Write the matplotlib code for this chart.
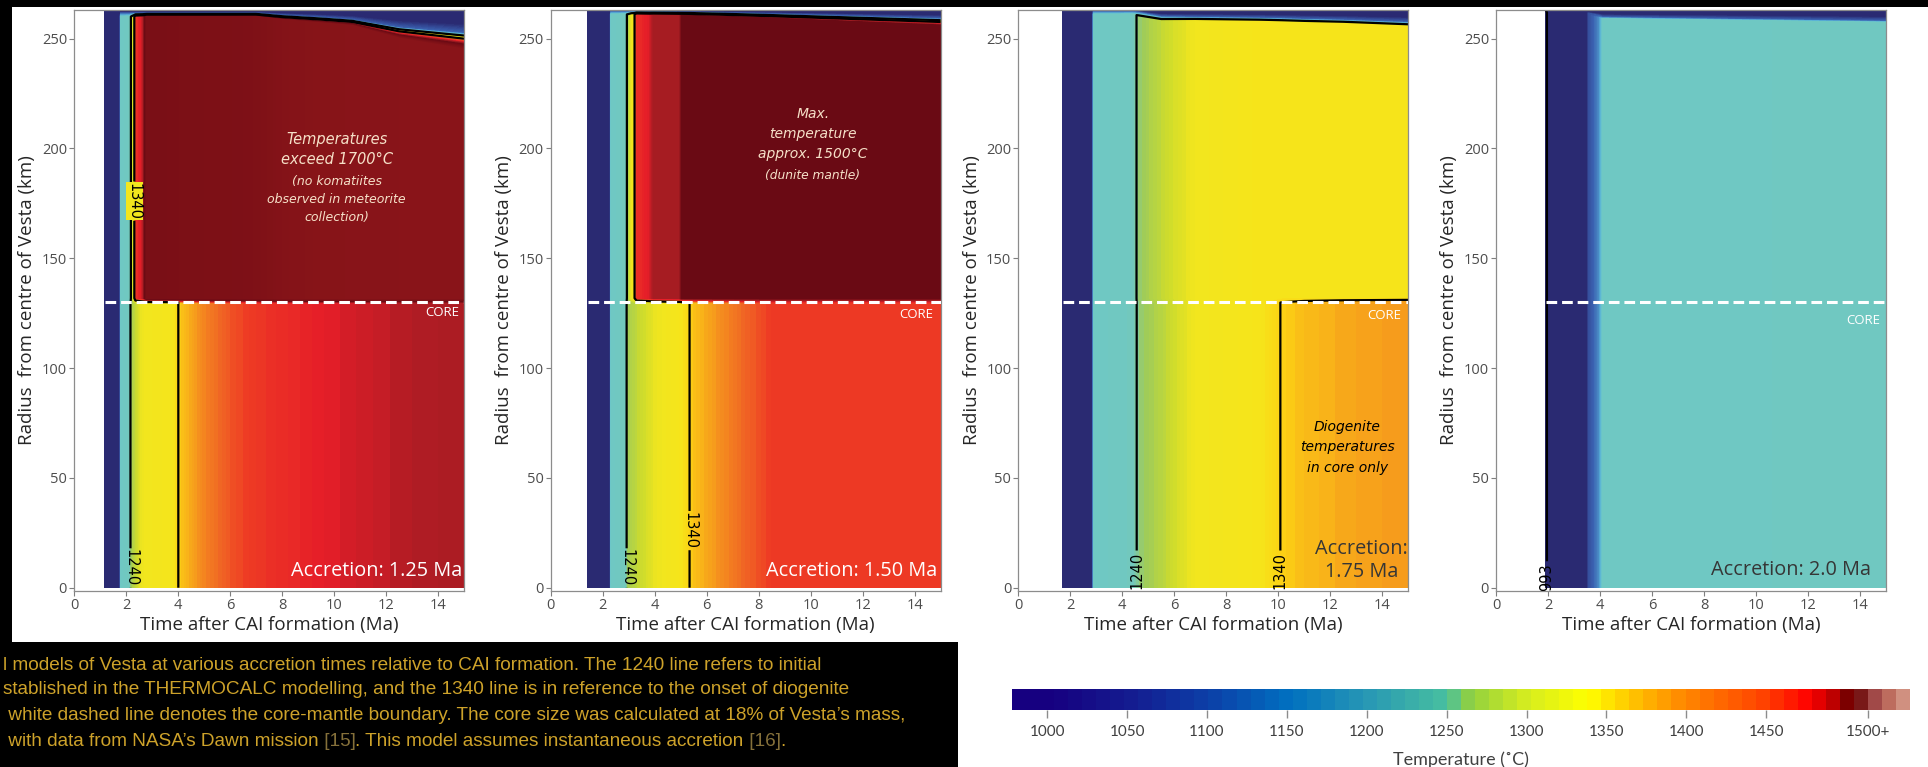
import numpy as np
import matplotlib
matplotlib.use("Agg")
import matplotlib.pyplot as plt
from matplotlib.colors import LinearSegmentedColormap, Normalize
from matplotlib.patches import Rectangle
from matplotlib.cm import ScalarMappable

plt.rcParams['font.family'] = ['Open Sans', 'DejaVu Sans']

# Thermal model values.
# time (Ma after CAI), core / mantle temperature (C), radius (km) where the
# hot interior stops and where the cold rim starts
p1_time = [1.18, 1.72, 1.80, 2.15, 2.18, 2.25, 2.30, 2.36, 2.60, 2.65, 2.80,
           3.80, 4.05, 4.50, 5.0, 6.0, 7.0, 8.0, 9.5, 10.7, 12.5, 15.0]
p1_core = [1000, 1000, 1225, 1235, 1242, 1255, 1262, 1268, 1295, 1298, 1302,
           1312, 1345, 1362, 1382, 1408, 1424, 1434, 1447, 1455, 1466, 1476]
p1_mantle = [1000, 1000, 1225, 1233, 1236, 1270, 1300, 1420, 1455, 1462, 1600,
             1605, 1608, 1610, 1612, 1615, 1625, 1660, 1680, 1685, 1688, 1690]
p1_hot_top = [260, 260, 260, 260, 260, 260, 260, 260, 260, 260, 260,
              260, 260, 260, 260, 260, 260, 258.5, 257, 255.8, 250, 245]
p1_cold_base = [261.5, 261.5, 261.5, 261.5, 261.5, 261.5, 261.5, 261.5, 261.5, 261.5, 261.5,
                261.5, 261.5, 261.5, 261.5, 261.5, 261.5, 260.5, 259.5, 258.5, 255, 252.5]

p2_time = [1.42, 2.24, 2.32, 2.90, 2.97, 3.10, 3.20, 3.30, 3.80, 3.95, 4.95,
           5.05, 5.37, 5.60, 6.50, 7.50, 8.50, 15.0]
p2_core = [1000, 1000, 1225, 1236, 1250, 1258, 1262, 1266, 1285, 1292, 1315,
           1320, 1342, 1352, 1375, 1400, 1420, 1422]
p2_mantle = [1000, 1000, 1225, 1234, 1248, 1295, 1310, 1430, 1452, 1476, 1480,
             1530, 1530, 1530, 1530, 1530, 1530, 1530]
p2_hot_top = [261, 261, 261, 261, 261, 261, 261, 261, 260.8, 260.8, 260.6,
              260.5, 260.4, 260.3, 260, 259.6, 259.2, 256]
p2_cold_base = [262.3, 262.3, 262.3, 262.3, 262.3, 262.3, 262.3, 262.3, 262.2, 262.2, 262.1,
                262, 262, 261.9, 261.7, 261.4, 261.1, 259]

p3_time = [1.70, 2.78, 2.90, 4.40, 4.62, 5.50, 6.80, 9.30, 10.15, 11.0, 12.5, 15.0]
p3_core = [1000, 1000, 1225, 1233, 1243, 1262, 1300, 1318, 1342, 1352, 1362, 1372]
p3_mantle = [1000, 1000, 1225, 1232, 1244, 1268, 1300, 1318, 1320, 1320, 1320, 1320]
p3_hot_top = [261, 261, 261, 261, 260.5, 258.5, 258.3, 257.8, 257.5, 257.2, 256.8, 255.5]
p3_cold_base = [262.3, 262.3, 262.3, 262.3, 262, 260, 259.8, 259.4, 259.2, 258.9, 258.5, 257.5]

p4_time = [1.92, 1.98, 3.45, 3.55, 3.95, 4.10, 15.0]
p4_core = [980, 1000, 1000, 1140, 1180, 1225, 1230]
p4_mantle = [980, 1000, 1000, 1140, 1180, 1225, 1230]
p4_hot_top = [261, 261, 261, 260.5, 259.5, 259, 257.3]
p4_cold_base = [262, 262, 262, 261.5, 260.3, 259.7, 258]

core_top = 129.8       # km
mantle_bottom = 131.8  # km
core_boundary = 130    # km, white dashed line
surface = 263          # km
rim_warm = 1160        # C, at the base of the cold rim
rim_temp = 1000        # C, at the surface

contour_levels = [[1240, 1340], [1240, 1340], [1240, 1340], [993]]
label_spots = [[(2.18, 9), (2.33, 176)], [(2.93, 9), (5.34, 26)],
               [(4.57, 8), (10.08, 8)], [(1.96, 5)]]

accretion_text = ['Accretion: 1.25 Ma', 'Accretion: 1.50 Ma',
                  'Accretion:\n1.75 Ma', 'Accretion: 2.0 Ma']

# colour scale of the panels
panel_temps = [940, 1100, 1160, 1200, 1222, 1236, 1250, 1275, 1300, 1320, 1340,
               1355, 1375, 1400, 1420, 1448, 1470, 1480, 1530, 1600, 1700]
panel_colors = ['#2a2a72', '#2a2a72', '#3a60b0', '#58b0d8', '#6ec8c6', '#72c8bc',
                '#a0cc58', '#cfdc2c', '#f2e61e', '#f6e41a', '#fcd414', '#f9b818',
                '#f5901e', '#f06424', '#ee3c24', '#e61e28', '#b01c24', '#a51c22',
                '#6a0a14', '#7a0f16', '#8a1519']

# colour scale of the legend bar
cbar_temps = [978, 1000, 1050, 1100, 1150, 1200, 1250, 1265, 1300, 1340, 1370,
              1400, 1450, 1480, 1495, 1506, 1514, 1522, 1532, 1540]
cbar_colors = ['#160080', '#160080', '#141c90', '#0c40a8', '#0070c0', '#2898b4',
               '#48c0a0', '#90d040', '#d4ec20', '#ffff00', '#ffc000', '#ff8800',
               '#ff4400', '#ff0000', '#c00000', '#700000', '#7a1a1a', '#a04848',
               '#c07060', '#d09080']
cbar_ticks = [1000, 1050, 1100, 1150, 1200, 1250, 1300, 1350, 1400, 1450, 1514]
cbar_ticklabels = ['1000', '1050', '1100', '1150', '1200', '1250', '1300',
                   '1350', '1400', '1450', '1500+']

caption_lines = [
    "l models of Vesta at various accretion times relative to CAI formation. The 1240 line refers to initial",
    "stablished in the THERMOCALC modelling, and the 1340 line is in reference to the onset of diogenite",
    " white dashed line denotes the core-mantle boundary. The core size was calculated at 18% of Vesta\u2019s mass,",
]
caption_last = [" with data from NASA\u2019s Dawn mission", " [15]",
                ". This model assumes instantaneous accretion", " [16]", "."]


def make_cmap(temps, colors, name, n=256):
    lo, hi = temps[0], temps[-1]
    stops = [(t - lo) / (hi - lo) for t in temps]
    return LinearSegmentedColormap.from_list(name, list(zip(stops, colors)), N=n)


panel_cmap = make_cmap(panel_temps, panel_colors, 'vesta')
panel_norm = Normalize(panel_temps[0], panel_temps[-1])
fill_levels = np.linspace(panel_temps[0], panel_temps[-1], 191)

fig = plt.figure(figsize=(19.28, 7.67), dpi=100, facecolor='black')
W, H = 1928.0, 767.0

# white card behind the panels and behind the legend bar
fig.add_artist(Rectangle((12 / W, 1 - 642 / H), 1 - 12 / W, (642 - 7) / H,
                         transform=fig.transFigure, facecolor='white',
                         edgecolor='none', zorder=-2))
fig.add_artist(Rectangle((958 / W, 0), 1 - 958 / W, 1 - 641 / H,
                         transform=fig.transFigure, facecolor='white',
                         edgecolor='none', zorder=-2))

panel_left = [74, 550.7, 1018.3, 1496]
panels = [
    (p1_time, p1_core, p1_mantle, p1_hot_top, p1_cold_base),
    (p2_time, p2_core, p2_mantle, p2_hot_top, p2_cold_base),
    (p3_time, p3_core, p3_mantle, p3_hot_top, p3_cold_base),
    (p4_time, p4_core, p4_mantle, p4_hot_top, p4_cold_base),
]

for i, (tm, tc, tmn, top, cold) in enumerate(panels):
    ax = fig.add_axes([panel_left[i] / W, 1 - 591 / H, 390 / W, 581 / H])
    ax.set_facecolor('white')
    n = len(tm)
    X = np.array([tm] * 6, dtype=float)
    Y = np.array([np.zeros(n), np.full(n, core_top), np.full(n, mantle_bottom),
                  top, cold, np.full(n, surface)], dtype=float)
    Z = np.array([tc, tc, tmn, tmn, np.minimum(tmn, rim_warm), np.full(n, rim_temp)],
                 dtype=float)
    ax.contourf(X, Y, Z, levels=fill_levels, cmap=panel_cmap, norm=panel_norm)

    for level, spot in zip(contour_levels[i], label_spots[i]):
        cs = ax.contour(X, Y, Z, levels=[level], colors='black', linewidths=1.6)
        lbls = ax.clabel(cs, manual=[spot], inline=True, fmt='%d',
                         fontsize=10.5, inline_spacing=3)
        for lb in lbls:
            lb.set_color('black')
            lb.set_family('DejaVu Sans')
            if i == 0 and level == 1340:
                lb.set_bbox(dict(facecolor='#f2e61e', edgecolor='none', pad=0.5))

    ax.hlines(core_boundary, tm[0], 15, colors='white', linewidth=2.2,
              linestyles=(0, (3.5, 1.6)), zorder=5)

    ax.set_xlim(0, 15)
    ax.set_ylim(-1.5, surface)
    ax.set_xticks(range(0, 15, 2))
    ax.set_yticks(range(0, 251, 50))
    ax.tick_params(labelsize=10.5, labelcolor='#4d4d4d', color='#7f7f7f',
                   length=3.5, width=0.8, pad=1.5)
    for sp in ax.spines.values():
        sp.set_color('#8c8c8c')
        sp.set_linewidth(0.9)
    ax.set_xlabel('Time after CAI formation (Ma)', fontsize=13.5,
                  color='#262626', labelpad=2)
    ax.set_ylabel('Radius  from centre of Vesta (km)', fontsize=13.5,
                  color='#262626', labelpad=4)

    acc_color = 'white' if i < 2 else '#363636'
    acc_x = [14.95, 14.86, 14.99, 14.44][i]
    acc_y = [7.7, 7.4, 12.2, 7.9][i]
    ax.text(acc_x, acc_y, accretion_text[i], ha='right', va='center',
            multialignment='center', fontsize=14.3, color=acc_color,
            linespacing=1.2, zorder=6)

    core_x = [14.83, 14.71, 14.73, 14.77][i]
    core_y = [125.3, 124.4, 124.1, 121.8][i]
    ax.text(core_x, core_y, 'CORE', ha='right', va='center', fontsize=9.5,
            color='white', zorder=6)

note_color = '#f6e0c8'
fig.axes[0].text(10.1, 199.4, 'Temperatures\nexceed 1700\u00b0C', ha='center',
                 va='center', style='italic', family='DejaVu Sans',
                 fontsize=10.5, color=note_color, linespacing=1.45)
fig.axes[0].text(10.1, 176.7, '(no komatiites\nobserved in meteorite\ncollection)',
                 ha='center', va='center', style='italic', family='DejaVu Sans',
                 fontsize=9, color=note_color, linespacing=1.5)
fig.axes[1].text(10.08, 206.6, 'Max.\ntemperature\napprox. 1500\u00b0C', ha='center',
                 va='center', style='italic', family='DejaVu Sans',
                 fontsize=10, color=note_color, linespacing=1.55)
fig.axes[1].text(10.08, 187.5, '(dunite mantle)', ha='center', va='center',
                 style='italic', family='DejaVu Sans', fontsize=8.8,
                 color=note_color)
fig.axes[2].text(12.65, 64, 'Diogenite\ntemperatures\nin core only', ha='center',
                 va='center', style='italic', family='DejaVu Sans',
                 fontsize=10, color='black', linespacing=1.58)

# legend bar
cbar_cmap = make_cmap(cbar_temps, cbar_colors, 'legend', n=64)
cax = fig.add_axes([1012 / W, 1 - 710 / H, 898 / W, 21 / H])
cb = fig.colorbar(ScalarMappable(norm=Normalize(cbar_temps[0], cbar_temps[-1]),
                                 cmap=cbar_cmap),
                  cax=cax, orientation='horizontal')
cb.outline.set_visible(False)
cb.set_ticks(cbar_ticks)
cb.set_ticklabels(cbar_ticklabels)
cax.tick_params(labelsize=11, labelcolor='#404040', color='#8c8c8c',
                length=6, width=1, pad=5)
for lb in cax.get_xticklabels():
    lb.set_family(['Lato', 'DejaVu Sans'])
cb.set_label('Temperature (\u02daC)', fontsize=13, color='#404040',
             family=['Lato', 'DejaVu Sans'], labelpad=9)

# caption under the left panels
cap_font = ['Liberation Sans Narrow', 'Liberation Sans', 'DejaVu Sans']
gold = '#cda22a'
dim = '#85703a'
cap_size = 13.7
line_y = [665, 690, 716, 741]
cap_ax = fig.add_axes([0, 0, 1, 1])
cap_ax.set_axis_off()
for k, line in enumerate(caption_lines):
    cap_ax.text(0.0015, 1 - line_y[k] / H, line, ha='left', va='center',
                fontsize=cap_size, color=gold, family=cap_font)
prev = cap_ax.text(0.0015, 1 - line_y[3] / H, caption_last[0], ha='left',
                   va='center', fontsize=cap_size, color=gold, family=cap_font)
for piece in caption_last[1:]:
    prev = cap_ax.annotate(piece, xy=(1, 0.5), xycoords=prev, ha='left',
                           va='center', fontsize=cap_size,
                           color=dim if piece.strip().startswith('[') else gold,
                           family=cap_font)

fig.savefig('out.png', dpi=100, facecolor=fig.get_facecolor())
